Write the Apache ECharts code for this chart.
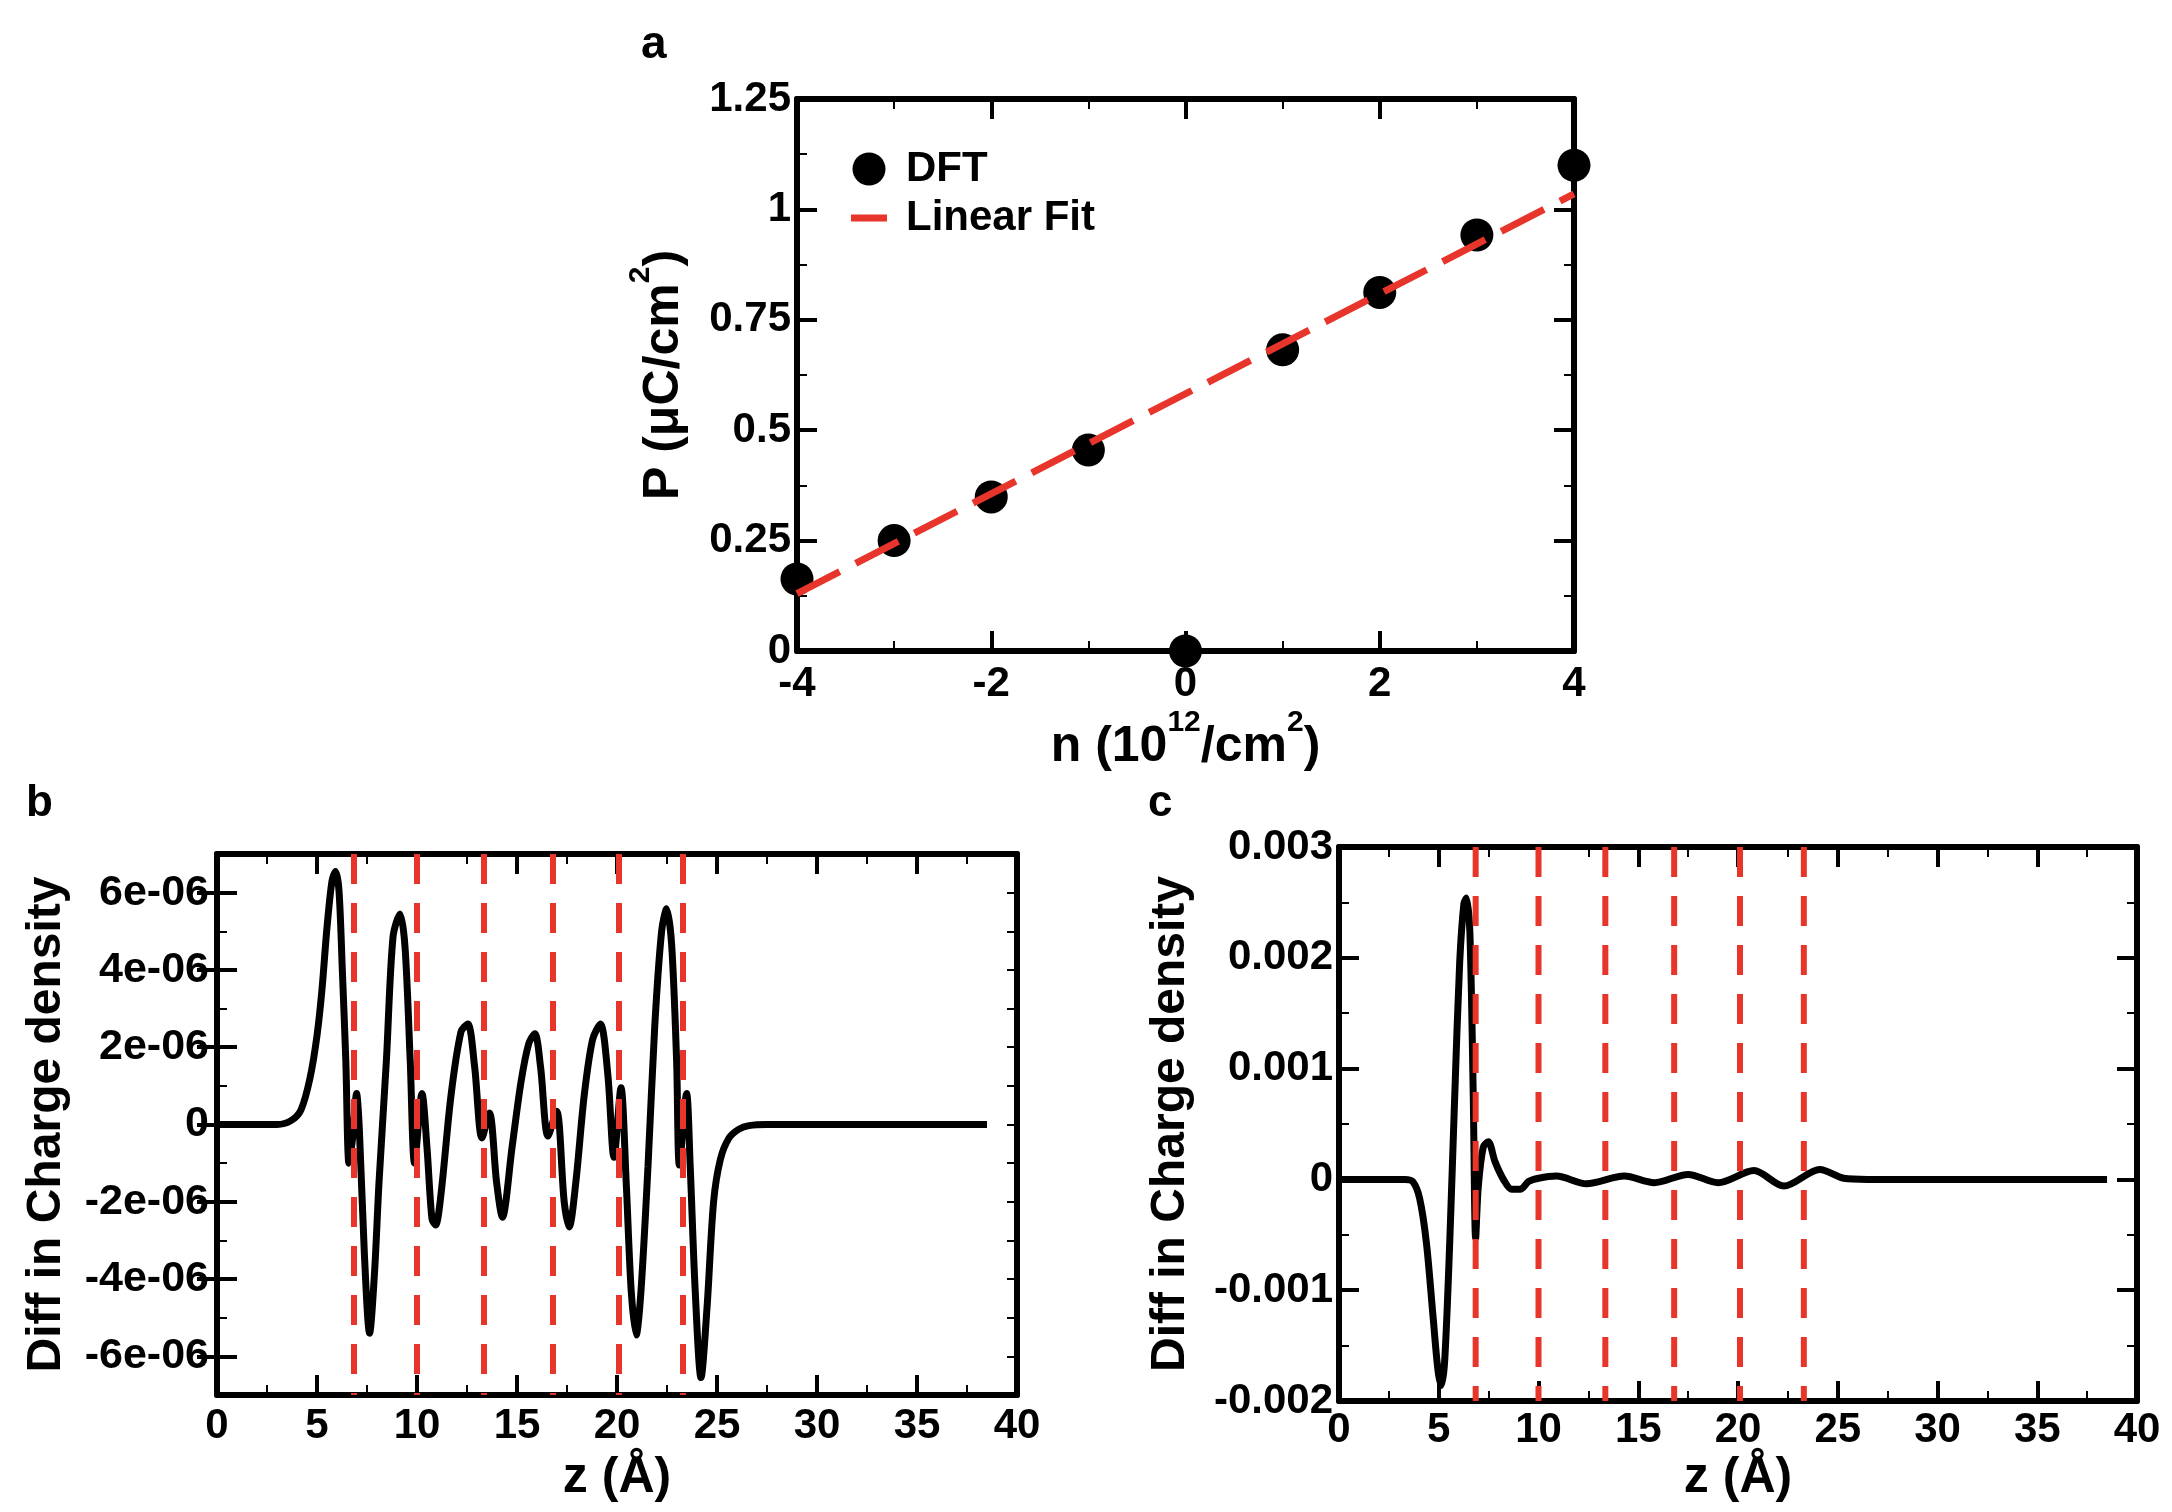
<!DOCTYPE html>
<html>
<head>
<meta charset="utf-8">
<title>Polarization and charge density difference</title>
<script src="https://cdn.jsdelivr.net/npm/echarts@6/dist/echarts.min.js"></script>
<style>
  html, body { margin: 0; background: #fff; }
  #main { width: 2172px; height: 1512px; }
</style>
</head>
<body>
<div id="main"></div>
<script>
// panel a: polarization vs carrier density
var nVals = [-4, -3, -2, -1, 0, 1, 2, 3, 4];
var pDft = [0.163, 0.25, 0.349, 0.455, 0.0, 0.682, 0.812, 0.942, 1.10];
var fitN = [-4, 4];
var fitP = [0.13, 1.035];

// panel b: charge density difference (units of 1e-6)
var bZ = [0, 3.0, 3.7, 4.2, 4.65, 5.0, 5.25, 5.5, 5.75, 5.93, 6.1, 6.27, 6.44, 6.6, 6.78, 6.98,
  7.12, 7.37, 7.63, 7.88, 8.1, 8.47, 8.8, 9.15, 9.4, 9.66, 9.88, 10.25, 10.5, 10.75, 10.93,
  11.2, 11.7, 12.2, 12.54, 12.88, 13.25, 13.62, 13.98, 14.27, 14.75, 15.2, 15.59, 15.89,
  16.18, 16.55, 16.98, 17.36, 17.61, 17.94, 18.36, 18.78, 19.17, 19.54, 19.85, 20.2, 20.46,
  20.71, 20.96, 21.2, 21.55, 21.89, 22.23, 22.48, 22.73, 22.98, 23.12, 23.48, 23.66, 23.91,
  24.2, 24.5, 24.83, 25.17, 25.6, 26.1, 26.6, 27.5, 38.5];
var bRho = [0, 0, 0.1, 0.38, 1.2, 2.3, 3.5, 5.1, 6.3, 6.55, 6.05, 3.95, 1.66, -1.0, -0.35, 0.8,
  -0.16, -3.36, -5.4, -3.8, -1.5, 1.66, 4.85, 5.45, 4.6, 1.66, -1.0, 0.8, -0.6, -2.45, -2.6,
  -1.8, 0.75, 2.4, 2.6, 1.5, -0.35, 0.3, -1.5, -2.4, -0.6, 1.1, 2.1, 2.35,
  1.48, -0.3, 0.34, -2.0, -2.65, -1.5, 0.75, 2.2, 2.6, 1.3, -0.85, 0.95, -1.5,
  -4.3, -5.45, -4.3, -1.08, 2.57, 5.0, 5.58, 4.67, 1.66, -1.05, 0.8, -1.08, -4.3,
  -6.55, -4.75, -2.0, -0.9, -0.35, -0.12, -0.03, 0, 0];

// panel c: charge density difference (units of 1e-3)
var cZ = [0, 3.3, 3.7, 4.04, 4.38, 4.71, 4.96, 5.13, 5.3, 5.55, 5.8, 6.05, 6.26, 6.39, 6.56,
  6.73, 6.85, 6.98, 7.23, 7.48, 7.82, 8.24, 8.66, 9.08, 9.5, 10.0, 10.9, 12.4, 14.3, 15.8,
  17.5, 19.0, 20.8, 22.3, 24.1, 25.3, 26.5, 38.5];
var cRho = [0, 0, -0.02, -0.17, -0.57, -1.23, -1.72, -1.86, -1.63, -0.57, 0.75, 1.96, 2.49, 2.54, 2.23,
  0.75, -0.53, -0.07, 0.29, 0.34, 0.16, 0.0, -0.09, -0.09, -0.02, 0.01, 0.03, -0.04, 0.03, -0.03,
  0.045, -0.03, 0.08, -0.06, 0.09, 0.01, 0, 0];

// layer positions (red dashed lines)
var layerZ = [6.85, 10.0, 13.35, 16.8, 20.1, 23.3];

var FONT = 'Liberation Sans, Arial, sans-serif';
var RED = '#e8352b';

function zip(xs, ys) {
  return xs.map(function (x, i) { return [x, ys[i]]; });
}

function axisBase(extra) {
  var ax = {
    type: 'value',
    axisLine: { show: true, onZero: false, lineStyle: { color: '#000', width: 6 } },
    axisTick: { show: true, inside: true, length: 20, lineStyle: { color: '#000', width: 4 } },
    minorTick: { show: true, splitNumber: 2, length: 10, lineStyle: { color: '#000', width: 2 } },
    axisLabel: { show: false },
    splitLine: { show: false },
    nameTextStyle: { fontFamily: FONT, fontWeight: 'bold', color: '#000' }
  };
  for (var k in extra) ax[k] = extra[k];
  return ax;
}

function lbl(size, margin, fmt) {
  var o = { show: true, fontFamily: FONT, fontWeight: 'bold', fontSize: size, color: '#000', margin: margin };
  if (fmt) o.formatter = fmt;
  return o;
}

// superscript raised by bottom padding
var supRich = { sup: { fontFamily: FONT, fontWeight: 'bold', fontSize: 30, lineHeight: 30, padding: [0, 0, 48, 0] } };
var evenE6 = [-6, -4, -2, 0, 2, 4, 6];

var xAxes = [
  axisBase({ gridIndex: 0, position: 'bottom', min: -4, max: 4, interval: 2,
    axisLabel: lbl(42, 12),
    name: 'n (10{sup|12}/cm{sup|2})', nameLocation: 'middle', nameGap: 46,
    nameTextStyle: { fontFamily: FONT, fontWeight: 'bold', color: '#000', fontSize: 50, lineHeight: 82, rich: supRich } }),
  axisBase({ gridIndex: 0, position: 'top', min: -4, max: 4, interval: 2 }),
  axisBase({ gridIndex: 1, position: 'bottom', min: 0, max: 40, interval: 5,
    axisLabel: lbl(42, 10),
    name: 'z (Å)', nameLocation: 'middle', nameGap: 58,
    nameTextStyle: { fontFamily: FONT, fontWeight: 'bold', color: '#000', fontSize: 50 } }),
  axisBase({ gridIndex: 1, position: 'top', min: 0, max: 40, interval: 5 }),
  axisBase({ gridIndex: 2, position: 'bottom', min: 0, max: 40, interval: 5,
    axisLabel: lbl(42, 8),
    name: 'z (Å)', nameLocation: 'middle', nameGap: 52,
    nameTextStyle: { fontFamily: FONT, fontWeight: 'bold', color: '#000', fontSize: 50 } }),
  axisBase({ gridIndex: 2, position: 'top', min: 0, max: 40, interval: 5 })
];

function fmtB(v) { return v === 0 ? '0' : v + 'e-06'; }
function fmtC(v) { return Math.abs(v) < 1e-9 ? '0' : (v / 1000).toFixed(3); }

var yAxes = [
  axisBase({ gridIndex: 0, position: 'left', min: 0, max: 1.25, interval: 0.25,
    axisLabel: lbl(42, 6),
    name: 'P (μC/cm{sup|2})', nameLocation: 'middle', nameRotate: 90, nameGap: 78,
    nameTextStyle: { fontFamily: FONT, fontWeight: 'bold', color: '#000', fontSize: 50, lineHeight: 82, rich: supRich } }),
  axisBase({ gridIndex: 0, position: 'right', min: 0, max: 1.25, interval: 0.25 }),
  // b: integer ticks short, even ticks long
  axisBase({ gridIndex: 1, position: 'left', min: -7, max: 7, interval: 1,
    axisTick: { show: true, inside: true, length: 10, lineStyle: { color: '#000', width: 2 } },
    minorTick: { show: false },
    axisLabel: lbl(43, 8, function (v) { return v % 2 === 0 ? fmtB(v) : ''; }),
    name: 'Diff in Charge density', nameLocation: 'middle', nameRotate: 90, nameGap: 146,
    nameTextStyle: { fontFamily: FONT, fontWeight: 'bold', color: '#000', fontSize: 48 } }),
  axisBase({ gridIndex: 1, position: 'left', min: -7, max: 7, interval: 1,
    axisLine: { show: false }, minorTick: { show: false },
    axisTick: { show: true, inside: true, length: 20, customValues: evenE6, lineStyle: { color: '#000', width: 4 } } }),
  axisBase({ gridIndex: 1, position: 'right', min: -7, max: 7, interval: 1,
    axisTick: { show: true, inside: true, length: 10, lineStyle: { color: '#000', width: 2 } },
    minorTick: { show: false } }),
  axisBase({ gridIndex: 1, position: 'right', min: -7, max: 7, interval: 1,
    axisLine: { show: false }, minorTick: { show: false },
    axisTick: { show: true, inside: true, length: 20, customValues: evenE6, lineStyle: { color: '#000', width: 4 } } }),
  axisBase({ gridIndex: 2, position: 'left', min: -2, max: 3, interval: 1,
    axisLabel: lbl(42, 6, fmtC),
    name: 'Diff in Charge density', nameLocation: 'middle', nameRotate: 90, nameGap: 144,
    nameTextStyle: { fontFamily: FONT, fontWeight: 'bold', color: '#000', fontSize: 48 } }),
  axisBase({ gridIndex: 2, position: 'right', min: -2, max: 3, interval: 1 })
];

var series = [
  { type: 'scatter', name: 'DFT', xAxisIndex: 0, yAxisIndex: 0, data: zip(nVals, pDft),
    symbol: 'circle', symbolSize: 33, itemStyle: { color: '#000', opacity: 1 }, z: 3 },
  { type: 'line', name: 'Linear Fit', xAxisIndex: 0, yAxisIndex: 0, data: zip(fitN, fitP),
    symbol: 'none', lineStyle: { color: RED, width: 7, type: [48, 18] }, itemStyle: { color: RED }, z: 4 },
  { type: 'line', xAxisIndex: 2, yAxisIndex: 2, data: zip(bZ, bRho), symbol: 'none',
    smooth: 0.3, lineStyle: { color: '#000', width: 7 }, z: 3 },
  { type: 'line', xAxisIndex: 4, yAxisIndex: 6, data: zip(cZ, cRho), symbol: 'none',
    smooth: 0.3, lineStyle: { color: '#000', width: 7 }, z: 3 }
];

layerZ.forEach(function (z) {
  series.push({ type: 'line', xAxisIndex: 2, yAxisIndex: 2, data: [[z, 7], [z, -7]], symbol: 'none',
    lineStyle: { color: RED, width: 6, type: [30, 19] }, z: 4, silent: true });
  series.push({ type: 'line', xAxisIndex: 4, yAxisIndex: 6, data: [[z, 3], [z, -2]], symbol: 'none',
    lineStyle: { color: RED, width: 6, type: [30, 19] }, z: 4, silent: true });
});

var chart = echarts.init(document.getElementById('main'));
chart.setOption({
  backgroundColor: '#fff',
  animation: false,
  grid: [
    { left: 797, top: 99, width: 777, height: 552 },
    { left: 217, top: 854, width: 800, height: 541 },
    { left: 1339, top: 847, width: 798, height: 554 }
  ],
  xAxis: xAxes,
  yAxis: yAxes,
  legend: {
    data: [
      { name: 'DFT', icon: 'circle', itemStyle: { color: '#000', opacity: 1 } },
      { name: 'Linear Fit', icon: 'path://M0,0 M0,13 L36,13 L36,20 L0,20 Z M36,33', itemStyle: { color: RED } }
    ],
    orient: 'vertical', left: 846, top: 143, itemWidth: 36, itemHeight: 33, itemGap: 7,
    textStyle: { fontFamily: FONT, fontWeight: 'bold', fontSize: 42, color: '#000', padding: [0, 0, 0, 14] }
  },
  graphic: [
    { type: 'text', left: 641, top: 22, style: { text: 'a', font: 'bold 46px ' + FONT, fill: '#000' } },
    { type: 'text', left: 26, top: 782, style: { text: 'b', font: 'bold 44px ' + FONT, fill: '#000' } },
    { type: 'text', left: 1148, top: 782, style: { text: 'c', font: 'bold 44px ' + FONT, fill: '#000' } }
  ],
  series: series
});
</script>
</body>
</html>
